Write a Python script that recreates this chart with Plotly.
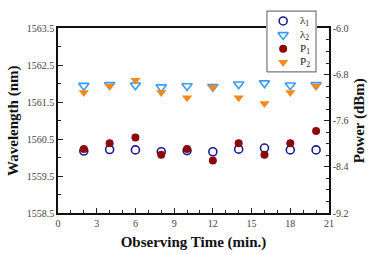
import plotly.graph_objects as go

time = [2, 4, 6, 8, 10, 12, 14, 16, 18, 20]
lambda1 = [1560.18, 1560.22, 1560.21, 1560.16, 1560.19, 1560.16, 1560.23, 1560.26, 1560.21, 1560.21]
lambda2 = [1561.95, 1561.97, 1561.96, 1561.91, 1561.94, 1561.92, 1561.99, 1562.02, 1561.96, 1561.97]
p1 = [-8.09, -7.99, -7.89, -8.19, -8.09, -8.29, -7.99, -8.19, -7.99, -7.78]
p2 = [-7.11, -7.00, -6.90, -7.11, -7.20, -7.02, -7.20, -7.30, -7.11, -7.00]

x_ticks = [0, 3, 6, 9, 12, 15, 18, 21]
y1_ticks = [1558.5, 1559.5, 1560.5, 1561.5, 1562.5, 1563.5]
y2_ticks = [-9.2, -8.4, -7.6, -6.8, -6.0]

names = ["λ<sub>1</sub>", "λ<sub>2</sub>", "P<sub>1</sub>", "P<sub>2</sub>"]
colors = ["#1c1c8f", "#3a9cf5", "#8b0a0a", "#f28a1e"]
symbols = ["circle-open", "triangle-down-open", "circle", "triangle-down"]
sizes = [8, 9, 8, 9]

FONT = "Liberation Serif, Times New Roman, serif"

# paper: t=4, b=41 -> 209 px tall; plot area spans px 23..213
PAPER_H = 209
TOP_DOMAIN = 190 / PAPER_H

fig = go.Figure()
series = [(lambda1, "y"), (lambda2, "y"), (p1, "y2"), (p2, "y2")]
for (vals, ax), nm, c, s, sz in zip(series, names, colors, symbols, sizes):
    line = dict(width=1.6) if "open" in s else dict(width=0)
    fig.add_trace(go.Scatter(x=time, y=vals, mode="markers", name=nm, yaxis=ax, showlegend=False,
                             marker=dict(symbol=s, size=sz, color=c, line=line)))

# compact legend box on a hidden helper axis pair (drawn above the main plot's top border)
fig.add_trace(go.Scatter(x=[0, 1, 1, 0, 0], y=[0, 0, 1, 1, 0], mode="lines", fill="toself",
                         fillcolor="white", line=dict(color="#777777", width=1.2),
                         xaxis="x2", yaxis="y3", showlegend=False, hoverinfo="skip"))
leg_y = [0.84, 0.61, 0.38, 0.16]
for ly, nm, c, s, sz in zip(leg_y, names, colors, symbols, sizes):
    line = dict(width=1.6) if "open" in s else dict(width=0)
    fig.add_trace(go.Scatter(x=[0.33], y=[ly], mode="markers", xaxis="x2", yaxis="y3",
                             showlegend=False, hoverinfo="skip",
                             marker=dict(symbol=s, size=sz, color=c, line=line)))
    fig.add_annotation(x=0.64, y=ly, xref="x2", yref="y3", text=nm, showarrow=False,
                       xanchor="left", yanchor="middle",
                       font=dict(family=FONT, size=11, color="#222222"))

LEG_X0 = (266 - 58) / 271
LEG_X1 = (317 - 58) / 271

axis_common = dict(showgrid=False, zeroline=False, showline=True, linecolor="#111111", linewidth=1.5,
                   ticks="inside", tickcolor="#222222", ticklen=5, tickwidth=1,
                   tickfont=dict(family=FONT, size=10, color="#444444"))
title_font = dict(family=FONT, size=15, color="#111111")

fig.update_layout(
    width=378, height=254,
    margin=dict(l=58, r=49, t=4, b=41),
    paper_bgcolor="white", plot_bgcolor="white",
    font=dict(family=FONT, color="#111111"),
    showlegend=False,
    xaxis=dict(range=[0, 21], tickvals=x_ticks, ticktext=[str(v) for v in x_ticks],
               mirror=True,
               minor=dict(dtick=1, ticks="inside", ticklen=3, tickcolor="#222222"),
               title=dict(text="<b>Observing Time (min.)</b>", font=title_font, standoff=9),
               **axis_common),
    yaxis=dict(range=[1558.5, 1563.5], domain=[0, TOP_DOMAIN],
               tickvals=y1_ticks, ticktext=[f"{v:.1f}" for v in y1_ticks],
               minor=dict(dtick=0.5, tick0=1558.5, ticks="inside", ticklen=3, tickcolor="#222222"),
               title=dict(text="<b>Wavelength (nm)</b>", font=title_font, standoff=4),
               **axis_common),
    yaxis2=dict(range=[-9.2, -6.0], tickvals=y2_ticks, ticktext=[f"{v:.1f}" for v in y2_ticks],
                overlaying="y", side="right",
                minor=dict(dtick=0.2, tick0=-9.2, ticks="inside", ticklen=3, tickcolor="#222222"),
                title=dict(text="<b>Power (dBm)</b>", font=title_font, standoff=6),
                **axis_common),
    xaxis2=dict(domain=[LEG_X0, LEG_X1], range=[-0.02, 1.02], anchor="y3", visible=False, fixedrange=True),
    yaxis3=dict(domain=[(213 - 69) / PAPER_H, 1], range=[-0.02, 1.02], anchor="x2", visible=False, fixedrange=True),
)

fig.write_html("out.html")
